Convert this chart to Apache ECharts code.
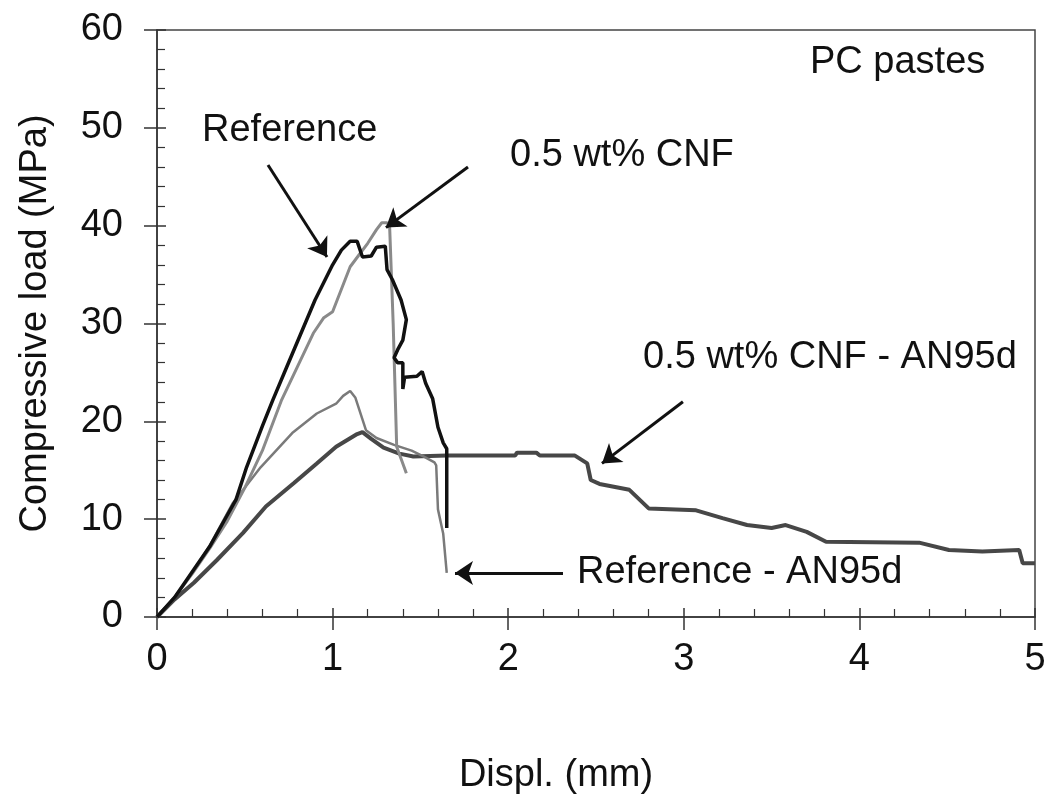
<!DOCTYPE html>
<html>
<head>
<meta charset="utf-8">
<script src="https://cdn.jsdelivr.net/npm/echarts@6/dist/echarts.min.js"></script>
<style>
  html, body { margin: 0; padding: 0; background: #fff; }
  #chart { width: 1053px; height: 801px; }
</style>
</head>
<body>
<div id="chart"></div>
<script>
// Кривые нагрузка - перемещение, [перемещение мм, нагрузка МПа]
const reference = [
  [0, 0], [0.1, 2], [0.2, 4.6], [0.3, 7.2], [0.4, 10.4], [0.45, 12], [0.51, 15.3],
  [0.6, 19.5], [0.66, 22.2], [0.74, 25.6], [0.82, 29], [0.9, 32.4], [1.0, 36],
  [1.05, 37.5], [1.1, 38.4], [1.14, 38.4], [1.17, 36.8], [1.22, 36.9], [1.25, 37.8],
  [1.3, 37.9], [1.31, 35.5], [1.34, 34.5], [1.39, 32.4], [1.42, 30.4], [1.4, 28.3],
  [1.37, 27.3], [1.35, 26.5], [1.37, 26], [1.4, 26], [1.4, 23.3], [1.41, 24.5],
  [1.48, 24.6], [1.51, 25.1], [1.53, 23.9], [1.57, 22.3], [1.6, 19.4], [1.63, 17.8],
  [1.65, 17.2], [1.65, 9.1]
];
const cnf = [
  [0, 0], [0.1, 2], [0.2, 4.4], [0.3, 7], [0.4, 9.8], [0.5, 13.2], [0.6, 17],
  [0.71, 22.2], [0.8, 25.6], [0.89, 29], [0.95, 30.6], [1.0, 31.2], [1.05, 33.5],
  [1.1, 35.8], [1.15, 37], [1.2, 38.2], [1.25, 39.6], [1.28, 40.3], [1.31, 40.3],
  [1.325, 39.8], [1.345, 30], [1.365, 17.4], [1.42, 14.7]
];
const referenceAN95d = [
  [0, 0], [0.1, 2], [0.2, 4.5], [0.3, 7.3], [0.43, 11.6], [0.59, 15.3], [0.77, 18.8],
  [0.91, 20.8], [1.02, 21.8], [1.06, 22.6], [1.1, 23.1], [1.13, 22.4], [1.17, 20.2],
  [1.19, 19.1], [1.25, 18.3], [1.35, 17.6], [1.45, 17], [1.52, 16.4], [1.58, 15.8],
  [1.59, 15.5], [1.6, 11], [1.63, 8.5], [1.65, 4.5]
];
const cnfAN95d = [
  [0, 0], [0.1, 1.8], [0.21, 3.5], [0.34, 5.8], [0.49, 8.6], [0.62, 11.3], [0.78, 13.7],
  [0.91, 15.7], [1.02, 17.4], [1.14, 18.7], [1.17, 18.9], [1.22, 18.2], [1.29, 17.3],
  [1.38, 16.7], [1.46, 16.4], [1.65, 16.5], [2.04, 16.5], [2.05, 16.8], [2.16, 16.8],
  [2.18, 16.5], [2.38, 16.5], [2.45, 15.7], [2.47, 14], [2.52, 13.6], [2.69, 13],
  [2.8, 11.1], [3.07, 10.9], [3.22, 10.1], [3.36, 9.4], [3.5, 9.1], [3.58, 9.4],
  [3.7, 8.7], [3.81, 7.7], [4.34, 7.6], [4.51, 6.85], [4.7, 6.7], [4.91, 6.85],
  [4.93, 5.5], [5.0, 5.5]
];

// Стрелки-выноски: [начало], [острие]
const arrows = [
  [[0.632, 46.2], [0.968, 36.8]],
  [[1.771, 46.0], [1.304, 39.8]],
  [[2.995, 22.0], [2.534, 15.7]],
  [[2.312, 4.5], [1.697, 4.5]]
];

// Подписи
const labels = [
  { text: 'Reference', x: 202, y: 131 },
  { text: '0.5 wt% CNF', x: 510, y: 156 },
  { text: '0.5 wt% CNF - AN95d', x: 643, y: 358 },
  { text: 'Reference - AN95d', x: 577, y: 573 },
  { text: 'PC pastes', x: 810, y: 63 }
];

const FONT = '"Liberation Sans", Arial, sans-serif';
const AXIS_COLOR = '#333';

const chart = echarts.init(document.getElementById('chart'));

const lineSeries = (name, data, color, width, z) => ({
  name: name,
  type: 'line',
  data: data,
  showSymbol: false,
  symbol: 'none',
  lineStyle: { color: color, width: width },
  z: z,
  animation: false
});

// Вторая ось только для внутренних засечек (главные засечки "крестом")
const innerTicks = (min, max, interval) => ({
  type: 'value', min: min, max: max, interval: interval,
  axisLine: { show: false },
  axisTick: { inside: true, length: 9, lineStyle: { color: AXIS_COLOR, width: 1.5 } },
  minorTick: { show: true, splitNumber: 5, length: 8, lineStyle: { color: AXIS_COLOR, width: 1.2 } },
  axisLabel: { show: false },
  splitLine: { show: false }
});

const option = {
  backgroundColor: '#fff',
  animation: false,
  grid: {
    left: 157, top: 30, width: 878, height: 587,
    show: true, borderColor: '#444', borderWidth: 1.5, backgroundColor: 'transparent'
  },
  xAxis: [{
    type: 'value', min: 0, max: 5, interval: 1, position: 'bottom',
    name: 'Displ. (mm)', nameLocation: 'middle', nameGap: 140,
    nameTextStyle: { fontFamily: FONT, fontSize: 38, color: '#111', padding: [0, 80, 0, 0] },
    axisLine: { onZero: false, lineStyle: { color: AXIS_COLOR, width: 1.5 } },
    axisTick: { length: 13, lineStyle: { color: AXIS_COLOR, width: 1.5 } },
    axisLabel: { fontFamily: FONT, fontSize: 38, color: '#111', margin: 24 },
    splitLine: { show: false }
  }, Object.assign(innerTicks(0, 5, 1), { position: 'bottom' })],
  yAxis: [{
    type: 'value', min: 0, max: 60, interval: 10, position: 'left',
    name: 'Compressive load (MPa)', nameLocation: 'middle', nameGap: 102,
    nameTextStyle: { fontFamily: FONT, fontSize: 38, color: '#111' },
    axisLine: { onZero: false, lineStyle: { color: AXIS_COLOR, width: 1.5 } },
    axisTick: { length: 13, lineStyle: { color: AXIS_COLOR, width: 1.5 } },
    axisLabel: { fontFamily: FONT, fontSize: 38, color: '#111', margin: 34 },
    splitLine: { show: false }
  }, Object.assign(innerTicks(0, 60, 10), { position: 'left' })],
  series: [
    lineSeries('0.5 wt% CNF - AN95d', cnfAN95d, '#474747', 4, 2),
    lineSeries('Reference - AN95d', referenceAN95d, '#7a7a7a', 2.5, 3),
    lineSeries('0.5 wt% CNF', cnf, '#8a8a8a', 3, 4),
    lineSeries('Reference', reference, '#111', 3.5, 5),
    {
      type: 'lines',
      coordinateSystem: 'cartesian2d',
      data: arrows.map(a => ({ coords: a })),
      symbol: ['none', 'arrow'],
      symbolSize: 18,
      lineStyle: { color: '#111', width: 3, opacity: 1 },
      z: 6,
      animation: false
    }
  ],
  graphic: labels.map(l => ({
    type: 'text',
    x: l.x, y: l.y,
    style: {
      text: l.text, fontFamily: FONT, fontSize: 38, fill: '#111',
      textAlign: 'left', textVerticalAlign: 'middle'
    },
    z: 10
  }))
};

chart.setOption(option);
</script>
</body>
</html>
